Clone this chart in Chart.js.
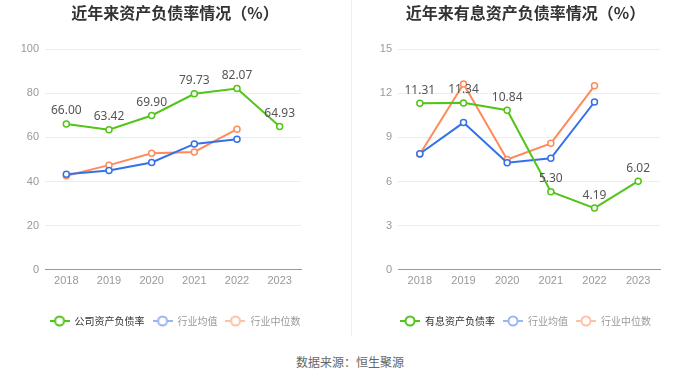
<!DOCTYPE html>
<html>
<head>
<meta charset="utf-8">
<script src="https://cdn.jsdelivr.net/npm/chart.js@4"></script>
<style>
  body { margin: 0; background: #fff; font-family: "Noto Sans CJK SC", "Noto Sans", sans-serif; }
  #wrap { position: relative; width: 700px; height: 378px; }
  .box { position: absolute; top: 0; width: 350px; height: 342px; }
  #divider { position: absolute; left: 351px; top: 0; width: 1px; height: 336px; background: #eeeeee; }
  #source { position: absolute; left: 0; width: 700px; top: 353px; text-align: center; font-size: 12px; color: #666; }
</style>
</head>
<body>
<div id="wrap">
  <div class="box" style="left:0"><canvas id="left"></canvas></div>
  <div id="divider"></div>
  <div class="box" style="left:351px"><canvas id="right"></canvas></div>
  <div id="source">数据来源：恒生聚源</div>
</div>
<script>
// 数据
let anos = ['2018', '2019', '2020', '2021', '2022', '2023'];

let fuzhaiGongsi = [66.00, 63.42, 69.90, 79.73, 82.07, 64.93];
let fuzhaiJunzhi = [43.3, 45.0, 48.6, 57.0, 59.1, null];
let fuzhaiZhongwei = [42.6, 47.4, 52.8, 53.4, 63.7, null];

let youxiGongsi = [11.31, 11.34, 10.84, 5.30, 4.19, 6.02];
let youxiJunzhi = [7.88, 10.0, 7.27, 7.57, 11.4, null];
let youxiZhongwei = [7.85, 12.63, 7.5, 8.59, 12.5, null];

let cores = {
    verde: '#52c41a',
    azul: '#3370eb',
    laranja: '#ff8a5b',
    azulClaro: '#99b5f3',
    laranjaClaro: '#ffc0a6'
};

// icone de legenda: linha + circulo
function iconeLegenda(cor) {
    let c = document.createElement('canvas');
    c.width = 20;
    c.height = 12;
    let ctx = c.getContext('2d');
    ctx.strokeStyle = cor;
    ctx.lineWidth = 2;
    ctx.beginPath();
    ctx.moveTo(0, 6);
    ctx.lineTo(20, 6);
    ctx.stroke();
    ctx.fillStyle = '#fff';
    ctx.beginPath();
    ctx.arc(10, 6, 4.5, 0, Math.PI * 2);
    ctx.fill();
    ctx.stroke();
    return c;
}

// titulo centrado no canvas inteiro
let titulo = {
    id: 'titulo',
    afterDraw(chart, args, opts) {
        let ctx = chart.ctx;
        ctx.save();
        ctx.font = 'bold 16px "Noto Sans CJK SC", sans-serif';
        ctx.fillStyle = '#333';
        ctx.textAlign = 'center';
        ctx.textBaseline = 'middle';
        ctx.fillText(opts.text, chart.width / 2, 13);
        ctx.restore();
    }
};

// rotulos dos valores da empresa
let rotulos = {
    id: 'rotulos',
    afterDatasetsDraw(chart) {
        let ctx = chart.ctx;
        let meta = chart.getDatasetMeta(0);
        let dados = chart.data.datasets[0].data;
        ctx.save();
        ctx.font = '12px "Noto Sans", sans-serif';
        ctx.fillStyle = '#555';
        ctx.textAlign = 'center';
        ctx.textBaseline = 'middle';
        meta.data.forEach((p, i) => {
            ctx.fillText(dados[i].toFixed(2), p.x, p.y - 13);
        });
        ctx.restore();
    }
};

function criarGrafico(id, textoTitulo, nomeEmpresa, gongsi, junzhi, zhongwei, maximo, passo, larguraY, larguraDir) {
    let ctx = document.getElementById(id).getContext('2d');
    let serie = (label, data, cor) => ({
        label: label,
        data: data,
        borderColor: cor,
        backgroundColor: cor,
        pointBackgroundColor: '#fff',
        pointBorderColor: cor,
        pointBorderWidth: 1.5,
        pointRadius: 3,
        borderWidth: 2,
        tension: 0,
        yAxisID: 'y'
    });
    return new Chart(ctx, {
        type: 'line',
        data: {
            labels: anos,
            datasets: [
                serie(nomeEmpresa, gongsi, cores.verde),
                serie('行业均值', junzhi, cores.azul),
                serie('行业中位数', zhongwei, cores.laranja)
            ]
        },
        plugins: [rotulos, titulo],
        options: {
            responsive: false,
            animation: false,
            devicePixelRatio: 1,
            layout: { padding: { left: 0, right: 0, top: 49, bottom: 6 } },
            plugins: {
                titulo: { text: textoTitulo },
                legend: {
                    position: 'bottom',
                    labels: {
                        usePointStyle: true,
                        pointStyleWidth: 20,
                        boxHeight: 11,
                        padding: 8,
                        font: { size: 10, family: '"Noto Sans CJK SC", sans-serif' },
                        generateLabels(chart) {
                            let icones = [iconeLegenda(cores.verde), iconeLegenda(cores.azulClaro), iconeLegenda(cores.laranjaClaro)];
                            return chart.data.datasets.map((ds, i) => ({
                                text: ds.label,
                                pointStyle: icones[i],
                                fontColor: i === 0 ? '#333' : '#999',
                                datasetIndex: i,
                                hidden: false,
                                lineWidth: 0
                            }));
                        }
                    }
                },
                tooltip: { enabled: false }
            },
            scales: {
                x: {
                    offset: true,
                    grid: { display: false, drawTicks: false },
                    border: { display: true, color: '#999' },
                    ticks: { color: '#999', font: { size: 11 }, padding: 5 },
                    afterFit(scale) { scale.height = scale.height + 15; }
                },
                y: {
                    min: 0,
                    max: maximo,
                    afterFit(scale) { scale.width = larguraY; },
                    grid: { color: '#e9edf5', drawTicks: false },
                    border: { display: false },
                    ticks: { color: '#999', font: { size: 11 }, padding: 6, stepSize: passo }
                },
                // eixo vazio so para reservar a margem direita
                vazio: {
                    position: 'right',
                    display: true,
                    grid: { display: false, drawTicks: false },
                    border: { display: false },
                    ticks: { display: false },
                    afterFit(scale) { scale.width = larguraDir; }
                }
            }
        }
    });
}

document.getElementById('left').width = 350;
document.getElementById('left').height = 342;
document.getElementById('right').width = 349;
document.getElementById('right').height = 342;

criarGrafico('left', '近年来资产负债率情况（%）', '公司资产负债率', fuzhaiGongsi, fuzhaiJunzhi, fuzhaiZhongwei, 100, 20, 45, 49);
criarGrafico('right', '近年来有息资产负债率情况（%）', '有息资产负债率', youxiGongsi, youxiJunzhi, youxiZhongwei, 15, 3, 47, 40);
</script>
</body>
</html>
